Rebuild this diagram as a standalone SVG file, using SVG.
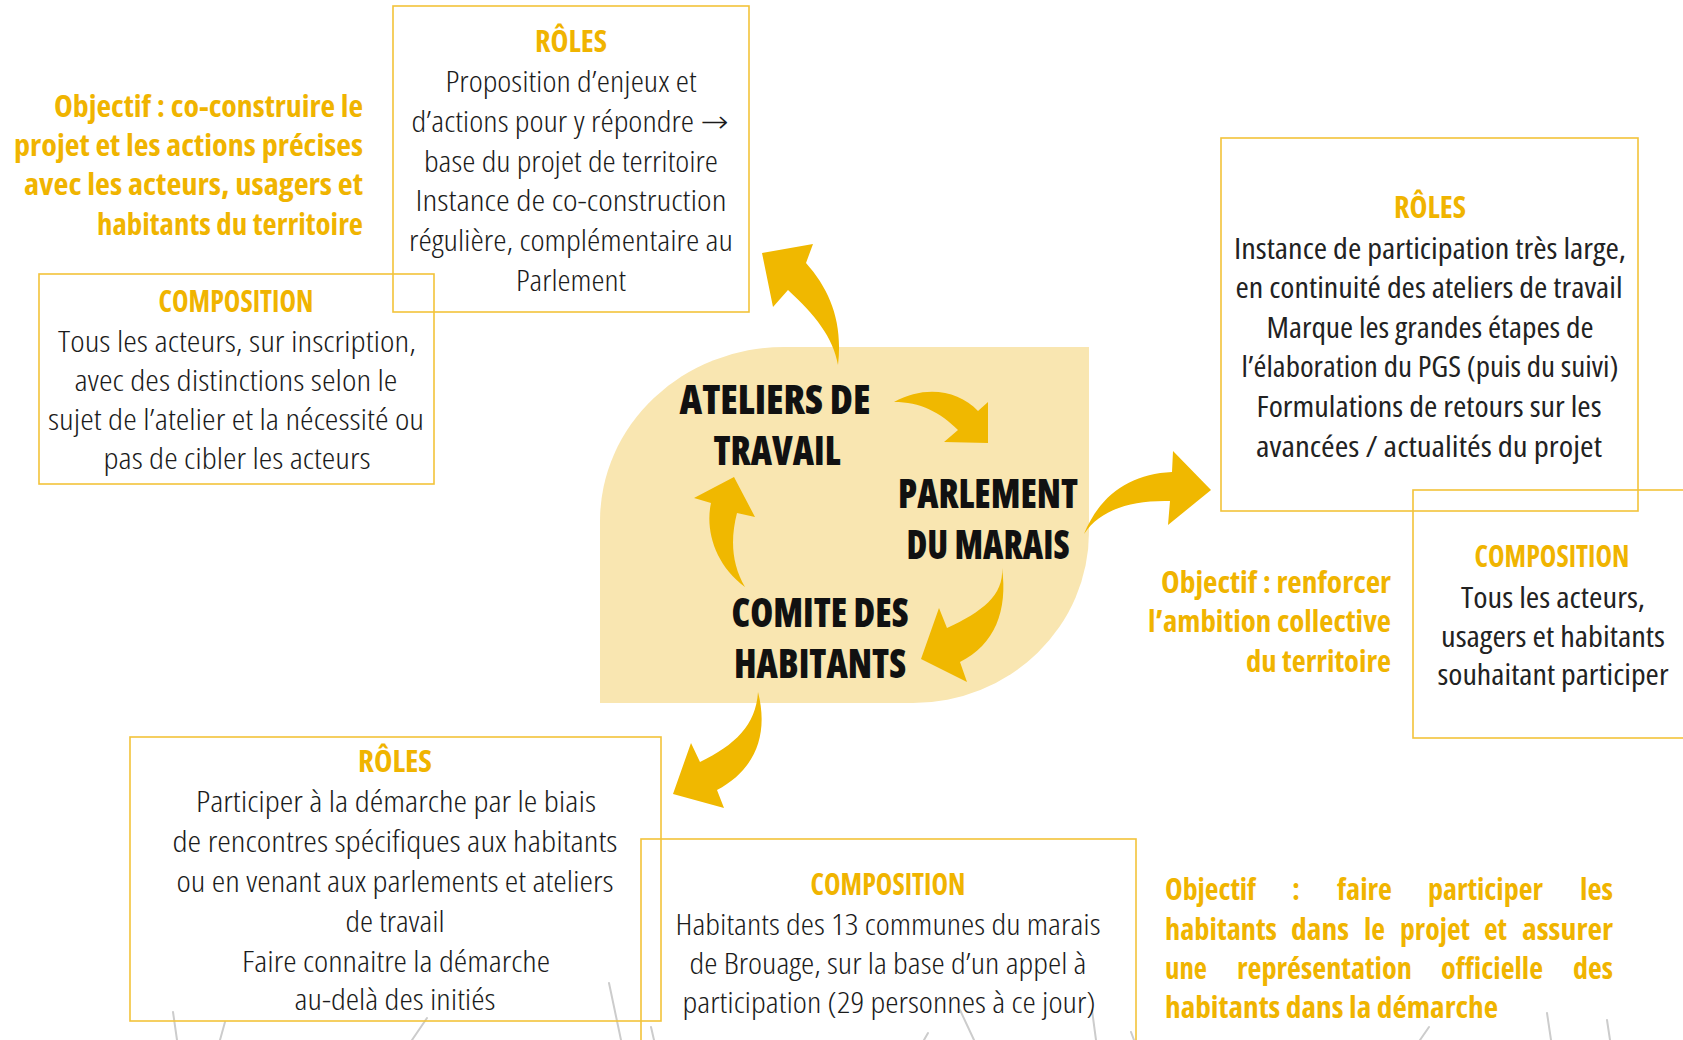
<svg xmlns="http://www.w3.org/2000/svg" width="1683" height="1040" viewBox="0 0 1683 1040">
<style>
.bg{fill:#ffffff}
.box{fill:none;stroke:#F3C33A;stroke-width:1.6}
.h{font-family:"Open Sans","Roboto",sans-serif;font-stretch:75%;font-weight:700;fill:#F0B400;font-size:30px}
.o{font-family:"Open Sans","Roboto",sans-serif;font-stretch:75%;font-weight:700;fill:#F0B400;font-size:30px}
.b{font-family:"Open Sans","Roboto","DejaVu Sans",sans-serif;font-stretch:75%;font-weight:300;fill:#1b1b1b;font-size:30px}
.r{font-family:"Open Sans","Roboto",sans-serif;font-stretch:75%;font-weight:400;fill:#222222;font-size:29px}
.t{font-family:"Open Sans","Roboto",sans-serif;font-stretch:75%;font-weight:800;fill:#111111;font-size:40px}
.c{text-anchor:middle}
.e{text-anchor:end}
.arr{fill:#F0B800}
.leaf{fill:#F9E6B1}
.grass{stroke:#cccccc;stroke-width:2;fill:none;stroke-linecap:round}
</style>
<rect class="bg" x="0" y="0" width="1683" height="1040"/>

<g id="decor-grass">
<line class="grass" x1="173" y1="1012" x2="177" y2="1040"/>
<line class="grass" x1="225" y1="1022" x2="220" y2="1040"/>
<line class="grass" x1="427" y1="1018" x2="412" y2="1040"/>
<line class="grass" x1="609" y1="983" x2="621" y2="1040"/>
<line class="grass" x1="651" y1="1027" x2="654" y2="1040"/>
<line class="grass" x1="928" y1="1033" x2="924" y2="1040"/>
<line class="grass" x1="960" y1="1010" x2="974" y2="1040"/>
<line class="grass" x1="1092" y1="1010" x2="1096" y2="1040"/>
<line class="grass" x1="1131" y1="1032" x2="1134" y2="1040"/>
<line class="grass" x1="1429" y1="1027" x2="1420" y2="1040"/>
<line class="grass" x1="1547" y1="1013" x2="1551" y2="1040"/>
<line class="grass" x1="1607" y1="1020" x2="1610" y2="1040"/>
</g>

<g id="node-center-shape">
<path class="leaf" d="M784,347 L1089,347 L1089,532 A176 171 0 0 1 913,703 L600,703 L600,521 A184 174 0 0 1 784,347 Z"/>
</g>

<g id="node-ateliers">
<text class="t c" x="775" y="414" textLength="191" lengthAdjust="spacingAndGlyphs">ATELIERS DE</text>
<text class="t c" x="777" y="465" textLength="127" lengthAdjust="spacingAndGlyphs">TRAVAIL</text>
</g>
<g id="node-parlement">
<text class="t c" x="988" y="508" textLength="180" lengthAdjust="spacingAndGlyphs">PARLEMENT</text>
<text class="t c" x="988" y="559" textLength="163" lengthAdjust="spacingAndGlyphs">DU MARAIS</text>
</g>
<g id="node-comite">
<text class="t c" x="820" y="627" textLength="177" lengthAdjust="spacingAndGlyphs">COMITE DES</text>
<text class="t c" x="820" y="678" textLength="172" lengthAdjust="spacingAndGlyphs">HABITANTS</text>
</g>

<g id="node-ateliers-roles">
<rect class="box" x="393" y="6" width="356" height="306"/>
<text class="h c" x="571" y="52" textLength="72" lengthAdjust="spacingAndGlyphs">RÔLES</text>
<text class="b c" x="571" y="92" textLength="251" lengthAdjust="spacingAndGlyphs">Proposition d’enjeux et</text>
<text class="b c" x="570" y="132" textLength="317" lengthAdjust="spacingAndGlyphs">d’actions pour y répondre →</text>
<text class="b c" x="571" y="172" textLength="294" lengthAdjust="spacingAndGlyphs">base du projet de territoire</text>
<text class="b c" x="571" y="211" textLength="311" lengthAdjust="spacingAndGlyphs">Instance de co-construction</text>
<text class="b c" x="571" y="251" textLength="324" lengthAdjust="spacingAndGlyphs">régulière, complémentaire au</text>
<text class="b c" x="571" y="291" textLength="110" lengthAdjust="spacingAndGlyphs">Parlement</text>
</g>

<g id="node-ateliers-composition">
<rect class="box" x="39" y="274" width="395" height="210"/>
<text class="h c" x="236" y="312" textLength="155" lengthAdjust="spacingAndGlyphs">COMPOSITION</text>
<text class="b c" x="237" y="352" textLength="358" lengthAdjust="spacingAndGlyphs">Tous les acteurs, sur inscription,</text>
<text class="b c" x="236" y="391" textLength="323" lengthAdjust="spacingAndGlyphs">avec des distinctions selon le</text>
<text class="b c" x="236" y="430" textLength="376" lengthAdjust="spacingAndGlyphs">sujet de l’atelier et la nécessité ou</text>
<text class="b c" x="237" y="469" textLength="267" lengthAdjust="spacingAndGlyphs">pas de cibler les acteurs</text>
</g>

<g id="node-ateliers-objectif">
<text class="o e" x="363" y="117" textLength="309" lengthAdjust="spacingAndGlyphs">Objectif : co-construire le</text>
<text class="o e" x="363" y="156" textLength="349" lengthAdjust="spacingAndGlyphs">projet et les actions précises</text>
<text class="o e" x="363" y="195" textLength="339" lengthAdjust="spacingAndGlyphs">avec les acteurs, usagers et</text>
<text class="o e" x="363" y="235" textLength="266" lengthAdjust="spacingAndGlyphs">habitants du territoire</text>
</g>

<g id="node-parlement-roles">
<rect class="box" x="1221" y="138" width="417" height="373"/>
<text class="h c" x="1430" y="218" textLength="72" lengthAdjust="spacingAndGlyphs">RÔLES</text>
<text class="r c" x="1430" y="259" textLength="392" lengthAdjust="spacingAndGlyphs">Instance de participation très large,</text>
<text class="r c" x="1429" y="298" textLength="387" lengthAdjust="spacingAndGlyphs">en continuité des ateliers de travail</text>
<text class="r c" x="1430" y="338" textLength="327" lengthAdjust="spacingAndGlyphs">Marque les grandes étapes de</text>
<text class="r c" x="1430" y="377" textLength="377" lengthAdjust="spacingAndGlyphs">l’élaboration du PGS (puis du suivi)</text>
<text class="r c" x="1429" y="417" textLength="345" lengthAdjust="spacingAndGlyphs">Formulations de retours sur les</text>
<text class="r c" x="1429" y="457" textLength="346" lengthAdjust="spacingAndGlyphs">avancées  / actualités du projet</text>
</g>

<g id="node-parlement-composition">
<rect class="box" x="1413" y="490" width="300" height="248"/>
<text class="h c" x="1552" y="567" textLength="155" lengthAdjust="spacingAndGlyphs">COMPOSITION</text>
<text class="r c" x="1553" y="608" textLength="184" lengthAdjust="spacingAndGlyphs">Tous les acteurs,</text>
<text class="r c" x="1553" y="647" textLength="224" lengthAdjust="spacingAndGlyphs">usagers et habitants</text>
<text class="r c" x="1553" y="685" textLength="231" lengthAdjust="spacingAndGlyphs">souhaitant participer</text>
</g>

<g id="node-parlement-objectif">
<text class="o e" x="1391" y="593" textLength="230" lengthAdjust="spacingAndGlyphs">Objectif : renforcer</text>
<text class="o e" x="1391" y="632" textLength="243" lengthAdjust="spacingAndGlyphs">l’ambition collective</text>
<text class="o e" x="1391" y="672" textLength="145" lengthAdjust="spacingAndGlyphs">du territoire</text>
</g>

<g id="node-comite-roles">
<rect class="box" x="130" y="737" width="531" height="284"/>
<text class="h c" x="395" y="772" textLength="74" lengthAdjust="spacingAndGlyphs">RÔLES</text>
<text class="b c" x="396" y="812" textLength="400" lengthAdjust="spacingAndGlyphs">Participer à la démarche par le biais</text>
<text class="b c" x="395" y="852" textLength="445" lengthAdjust="spacingAndGlyphs">de rencontres spécifiques aux habitants</text>
<text class="b c" x="395" y="892" textLength="437" lengthAdjust="spacingAndGlyphs">ou en venant aux parlements et ateliers</text>
<text class="b c" x="395" y="932" textLength="99" lengthAdjust="spacingAndGlyphs">de travail</text>
<text class="b c" x="396" y="972" textLength="308" lengthAdjust="spacingAndGlyphs">Faire connaitre la démarche</text>
<text class="b c" x="395" y="1010" textLength="201" lengthAdjust="spacingAndGlyphs">au-delà des initiés</text>
</g>

<g id="node-comite-composition">
<rect class="box" x="641" y="839" width="495" height="240"/>
<text class="h c" x="888" y="895" textLength="155" lengthAdjust="spacingAndGlyphs">COMPOSITION</text>
<text class="b c" x="888" y="935" textLength="425" lengthAdjust="spacingAndGlyphs">Habitants des 13 communes du marais</text>
<text class="b c" x="888" y="974" textLength="397" lengthAdjust="spacingAndGlyphs">de Brouage, sur la base d’un appel à</text>
<text class="b c" x="889" y="1013" textLength="413" lengthAdjust="spacingAndGlyphs">participation (29 personnes à ce jour)</text>
</g>

<g id="node-comite-objectif">
<text class="o" x="1165" y="900" textLength="91" lengthAdjust="spacingAndGlyphs">Objectif</text>
<text class="o" x="1292" y="900" textLength="8" lengthAdjust="spacingAndGlyphs">:</text>
<text class="o" x="1337" y="900" textLength="55" lengthAdjust="spacingAndGlyphs">faire</text>
<text class="o" x="1428" y="900" textLength="115" lengthAdjust="spacingAndGlyphs">participer</text>
<text class="o e" x="1613" y="900" textLength="33" lengthAdjust="spacingAndGlyphs">les</text>
<text class="o" x="1165" y="940" textLength="112" lengthAdjust="spacingAndGlyphs">habitants</text>
<text class="o" x="1291" y="940" textLength="58" lengthAdjust="spacingAndGlyphs">dans</text>
<text class="o" x="1364" y="940" textLength="21" lengthAdjust="spacingAndGlyphs">le</text>
<text class="o" x="1400" y="940" textLength="70" lengthAdjust="spacingAndGlyphs">projet</text>
<text class="o" x="1484" y="940" textLength="23" lengthAdjust="spacingAndGlyphs">et</text>
<text class="o e" x="1613" y="940" textLength="91" lengthAdjust="spacingAndGlyphs">assurer</text>
<text class="o" x="1165" y="979" textLength="42" lengthAdjust="spacingAndGlyphs">une</text>
<text class="o" x="1237" y="979" textLength="175" lengthAdjust="spacingAndGlyphs">représentation</text>
<text class="o" x="1441" y="979" textLength="102" lengthAdjust="spacingAndGlyphs">officielle</text>
<text class="o e" x="1613" y="979" textLength="40" lengthAdjust="spacingAndGlyphs">des</text>
<text class="o" x="1165" y="1018" textLength="333" lengthAdjust="spacingAndGlyphs">habitants dans la démarche</text>
</g>

<g id="connectors">
<path class="arr" d="M838,365 C843,322 830,290 806,263 L813,244 L762,253 L773,307 L788,290 C815,315 833,337 838,365 Z"/>
<path class="arr" d="M1084,534 C1100,495 1130,474 1172,472 L1173,451 L1211,490 L1168,525 L1170,501 C1130,500 1100,510 1084,534 Z"/>
<path class="arr" d="M758,692 C769,735 755,770 717,790 L724,808 L673,794 L691,743 L700,762 C735,745 756,725 758,692 Z"/>
<path class="arr" d="M894,402 C925,385 958,390 978,411 L988,402 L988,443 L944,442 L958,430 C940,412 920,402 894,402 Z"/>
<path class="arr" d="M1002,568 C1008,610 995,645 960,662 L967,682 L921,659 L939,608 L947,628 C982,612 1004,595 1002,568 Z"/>
<path class="arr" d="M745,587 C715,565 705,530 711,503 L694,498 L734,477 L755,517 L737,513 C730,540 732,565 745,587 Z"/>
</g>
</svg>
